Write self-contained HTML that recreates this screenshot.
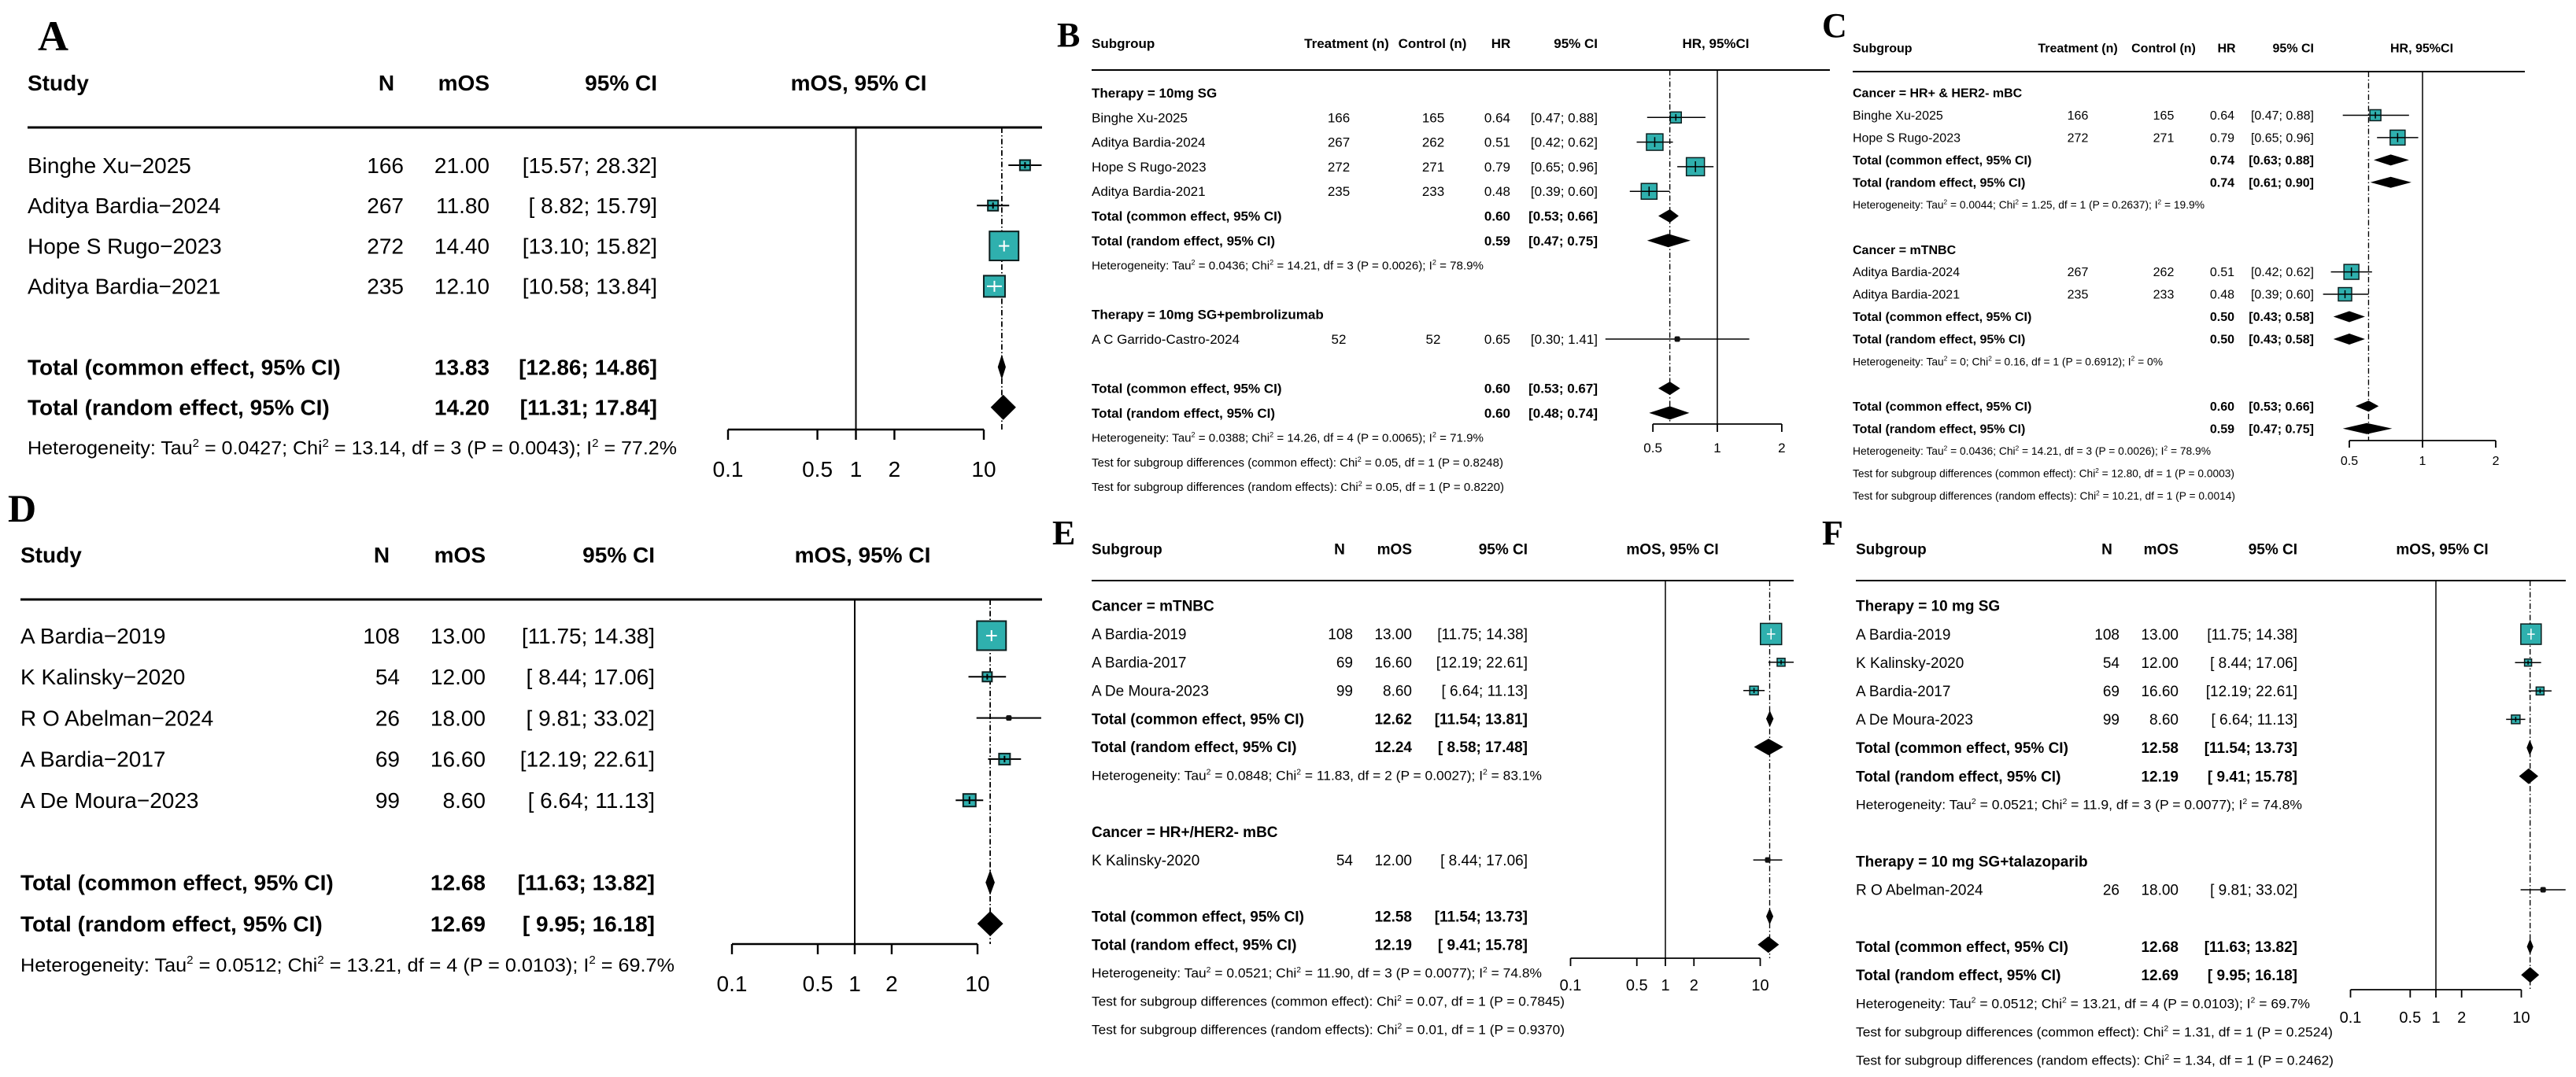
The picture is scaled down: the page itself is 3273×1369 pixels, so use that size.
<!DOCTYPE html>
<html><head><meta charset="utf-8">
<style>
html,body{margin:0;padding:0;background:#fff;}
svg{display:block;}
svg text{white-space:pre;}
</style></head>
<body>
<svg id="fig" xmlns="http://www.w3.org/2000/svg" width="3273" height="1369" viewBox="0 0 3273 1369">
<rect x="0" y="0" width="3273" height="1369" fill="#fff"/>
</svg>
<script>
// ---------- Panel A data ----------
const aStudy=["Binghe Xu\u22122025","Aditya Bardia\u22122024","Hope S Rugo\u22122023","Aditya Bardia\u22122021"];
const aN=[166,267,272,235];
const aEst=[21.00,11.80,14.40,12.10];
const aLo=[15.57,8.82,13.10,10.58];
const aHi=[28.32,15.79,15.82,13.84];
const aWeight=[7,7,56,30];
const aPoolEst=[13.83,14.20];
const aPoolLo=[12.86,11.31];
const aPoolHi=[14.86,17.84];
const aHet="Heterogeneity: Tau^2 = 0.0427; Chi^2 = 13.14, df = 3 (P = 0.0043); I^2 = 77.2%";
const mosTicks=[0.1,0.5,1,2,10];
const hrTicks=[0.5,1,2];
// ---------- Panel D data ----------
const dStudy=["A Bardia\u22122019","K Kalinsky\u22122020","R O Abelman\u22122024","A Bardia\u22122017","A De Moura\u22122023"];
const dN=[108,54,26,69,99];
const dEst=[13.00,12.00,18.00,16.60,8.60];
const dLo=[11.75,8.44,9.81,12.19,6.64];
const dHi=[14.38,17.06,33.02,22.61,11.13];
const dWeight=[67.5,7.1,3.2,9.7,12.6];
const dPoolEst=[12.68,12.69];
const dPoolLo=[11.63,9.95];
const dPoolHi=[13.82,16.18];
const dHet="Heterogeneity: Tau^2 = 0.0512; Chi^2 = 13.21, df = 4 (P = 0.0103); I^2 = 69.7%";
// ---------- Panel B data ----------
const bGroups=["Therapy = 10mg SG","Therapy = 10mg SG+pembrolizumab"];
const bStudy=["Binghe Xu-2025","Aditya Bardia-2024","Hope S Rugo-2023","Aditya Bardia-2021","A C Garrido-Castro-2024"];
const bTreat=[166,267,272,235,52];
const bCtrl=[165,262,271,233,52];
const bEst=[0.64,0.51,0.79,0.48,0.65];
const bLo=[0.47,0.42,0.65,0.39,0.30];
const bHi=[0.88,0.62,0.96,0.60,1.41];
const bWeight=[12.2,27.5,33.0,25.0,2.2];
const bSubEst=[0.60,0.59];
const bSubLo=[0.53,0.47];
const bSubHi=[0.66,0.75];
const bPoolEst=[0.60,0.60];
const bPoolLo=[0.53,0.48];
const bPoolHi=[0.67,0.74];
const bHet=["Heterogeneity: Tau^2 = 0.0436; Chi^2 = 14.21, df = 3 (P = 0.0026); I^2 = 78.9%","Heterogeneity: Tau^2 = 0.0388; Chi^2 = 14.26, df = 4 (P = 0.0065); I^2 = 71.9%"];
const bTests=["Test for subgroup differences (common effect): Chi^2 = 0.05, df = 1 (P = 0.8248)","Test for subgroup differences (random effects): Chi^2 = 0.05, df = 1 (P = 0.8220)"];
// ---------- Panel C data ----------
const cGroups=["Cancer = HR+ & HER2- mBC","Cancer = mTNBC"];
const cStudy=["Binghe Xu-2025","Hope S Rugo-2023","Aditya Bardia-2024","Aditya Bardia-2021"];
const cTreat=[166,272,267,235];
const cCtrl=[165,271,262,233];
const cEst=[0.64,0.79,0.51,0.48];
const cLo=[0.47,0.65,0.42,0.39];
const cHi=[0.88,0.96,0.62,0.60];
const cWeight=[16.2,29.9,29.9,23.9];
const cSubEst=[0.74,0.74,0.50,0.50];
const cSubLo=[0.63,0.61,0.43,0.43];
const cSubHi=[0.88,0.90,0.58,0.58];
const cPoolEst=[0.60,0.59];
const cPoolLo=[0.53,0.47];
const cPoolHi=[0.66,0.75];
const cHet=["Heterogeneity: Tau^2 = 0.0044; Chi^2 = 1.25, df = 1 (P = 0.2637); I^2 = 19.9%","Heterogeneity: Tau^2 = 0; Chi^2 = 0.16, df = 1 (P = 0.6912); I^2 = 0%","Heterogeneity: Tau^2 = 0.0436; Chi^2 = 14.21, df = 3 (P = 0.0026); I^2 = 78.9%"];
const cTests=["Test for subgroup differences (common effect): Chi^2 = 12.80, df = 1 (P = 0.0003)","Test for subgroup differences (random effects): Chi^2 = 10.21, df = 1 (P = 0.0014)"];
// ---------- Panel E data ----------
const eGroups=["Cancer = mTNBC","Cancer = HR+/HER2- mBC"];
const eStudy=["A Bardia-2019","A Bardia-2017","A De Moura-2023","K Kalinsky-2020"];
const eN=[108,69,99,54];
const eEst=[13.00,16.60,8.60,12.00];
const eLo=[11.75,12.19,6.64,8.44];
const eHi=[14.38,22.61,11.13,17.06];
const eWeight=[71.9,9.9,11.9,6.3];
const eSubEst=[12.62,12.24];
const eSubLo=[11.54,8.58];
const eSubHi=[13.81,17.48];
const ePoolEst=[12.58,12.19];
const ePoolLo=[11.54,9.41];
const ePoolHi=[13.73,15.78];
const eHet=["Heterogeneity: Tau^2 = 0.0848; Chi^2 = 11.83, df = 2 (P = 0.0027); I^2 = 83.1%","Heterogeneity: Tau^2 = 0.0521; Chi^2 = 11.90, df = 3 (P = 0.0077); I^2 = 74.8%"];
const eTests=["Test for subgroup differences (common effect): Chi^2 = 0.07, df = 1 (P = 0.7845)","Test for subgroup differences (random effects): Chi^2 = 0.01, df = 1 (P = 0.9370)"];
// ---------- Panel F data ----------
const fGroups=["Therapy = 10 mg SG","Therapy = 10 mg SG+talazoparib"];
const fStudy=["A Bardia-2019","K Kalinsky-2020","A Bardia-2017","A De Moura-2023","R O Abelman-2024"];
const fN=[108,54,69,99,26];
const fEst=[13.00,12.00,16.60,8.60,18.00];
const fLo=[11.75,8.44,12.19,6.64,9.81];
const fHi=[14.38,17.06,22.61,11.13,33.02];
const fWeight=[66.7,8.0,9.9,11.9,3.6];
const fSubEst=[12.58,12.19];
const fSubLo=[11.54,9.41];
const fSubHi=[13.73,15.78];
const fPoolEst=[12.68,12.69];
const fPoolLo=[11.63,9.95];
const fPoolHi=[13.82,16.18];
const fHet=["Heterogeneity: Tau^2 = 0.0521; Chi^2 = 11.9, df = 3 (P = 0.0077); I^2 = 74.8%","Heterogeneity: Tau^2 = 0.0512; Chi^2 = 13.21, df = 4 (P = 0.0103); I^2 = 69.7%"];
const fTests=["Test for subgroup differences (common effect): Chi^2 = 1.31, df = 1 (P = 0.2524)","Test for subgroup differences (random effects): Chi^2 = 1.34, df = 1 (P = 0.2462)"];

const NS='http://www.w3.org/2000/svg';
const svg=document.getElementById('fig');
function el(tag,attrs,name){
  const e=document.createElementNS(NS,tag);
  for(const k in attrs) e.setAttribute(k,attrs[k]);
  
  
  svg.appendChild(e);
  return e;
}
function txt(x,y,s,o,name){
  const t=el('text',{x:x,y:y,'font-size':o.fs,'font-family':o.serif?'"Liberation Serif", serif':'"Liberation Sans", Arial, sans-serif','font-weight':o.b?'bold':'normal','text-anchor':o.a||'start',fill:'#000'},name);
  if(o.len){t.setAttribute('textLength',o.len);t.setAttribute('lengthAdjust','spacingAndGlyphs');}
  const parts=s.split('^2');
  parts.forEach((p,i)=>{
    if(i>0){const sup=document.createElementNS(NS,'tspan');sup.setAttribute('dy',-o.fs*0.4);sup.setAttribute('font-size',o.fs*0.6);sup.textContent='2';t.appendChild(sup);}
    const sp=document.createElementNS(NS,'tspan');
    if(i>0) sp.setAttribute('dy',o.fs*0.4);
    sp.textContent=p;t.appendChild(sp);
  });
  return t;
}
function fmtCI(lo,hi,pad){return '['+(pad&&lo<10?' ':'')+lo.toFixed(2)+'; '+hi.toFixed(2)+']';}

function mkPanel(P){
  P.sx=v=>P.x1+P.dec*Math.log10(v);
  P.Y=i=>P.y0+i*P.dy;
  txt(P.letter[1],P.letter[2],P.letter[0],{fs:P.letter[3],b:true,serif:true},'panel-label-'+P.letter[0].toLowerCase());
  P.headers.forEach(h=>{ txt(h[1],P.hy+P.fs*0.35,h[0],{fs:P.fs,b:true,a:h[2]},'column-header'); });
  el('line',{x1:P.labelX,x2:P.lineR,y1:P.hl,y2:P.hl,stroke:'#000','stroke-width':P.hlw},'header-rule');
  el('line',{x1:P.sx(1),x2:P.sx(1),y1:P.hl,y2:P.axisY,stroke:'#000','stroke-width':P.lw},'null-effect-line');
  el('line',{x1:P.sx(P.ref),x2:P.sx(P.ref),y1:P.hl,y2:P.axisY,stroke:'#000','stroke-width':P.lw*0.9,'stroke-dasharray':'7,3,1.5,3'},'pooled-estimate-line');
  const t=P.ticks;
  el('line',{x1:P.sx(t[0]),x2:P.sx(t[t.length-1]),y1:P.axisY,y2:P.axisY,stroke:'#000','stroke-width':P.lw*1.2},'x-axis');
  t.forEach(v=>{
    el('line',{x1:P.sx(v),x2:P.sx(v),y1:P.axisY,y2:P.axisY+P.tl,stroke:'#000','stroke-width':P.lw*1.2},'x-tick');
    txt(P.sx(v),P.tickY,String(v),{fs:P.tfs,a:'middle'},'x-tick-label');
  });
}
function study(P,i,label,vals,est,lo,hi,w){
  const y=P.Y(i), by=y+P.fs*0.35;
  txt(P.labelX,by,label,{fs:P.fs},'study-label');
  vals.forEach((v,k)=>txt(P.cols[k][0],by,String(v),{fs:P.fs,a:P.cols[k][1]},'study-count'));
  txt(P.estX,by,est.toFixed(2),{fs:P.fs,a:'end'},'study-estimate');
  txt(P.ciX,by,fmtCI(lo,hi,P.pad),{fs:P.fs,a:'end'},'study-ci');
  const x=P.sx(est), x1=P.sx(lo), x2=Math.min(P.sx(hi),P.clipR);
  const s=P.boxK*Math.sqrt(w);
  el('line',{x1:x1,x2:x2,y1:y,y2:y,stroke:'#000','stroke-width':P.lw},'ci-whisker');
  if(s<8.5){
    el('rect',{x:x-3.5,y:y-3.5,width:7,height:7,fill:'#111',rx:2},'study-point');
    return;
  }
  el('rect',{x:x-s/2,y:y-s/2,width:s,height:s,fill:'#2fb0ae',stroke:'#0d1f1f','stroke-width':P.lw},'study-box');
  const inside=(x2-x1)<s;
  const c=inside?'#fff':'#000';
  el('line',{x1:Math.max(x1,x-s/2),x2:Math.min(x2,x+s/2),y1:y,y2:y,stroke:c,'stroke-width':P.lw},'ci-inner');
  const vh=Math.min(s*0.3,7);
  el('line',{x1:x,x2:x,y1:y-vh,y2:y+vh,stroke:c,'stroke-width':P.lw},'estimate-tick');
}
function pooled(P,i,label,est,lo,hi){
  const y=P.Y(i), by=y+P.fs*0.35;
  txt(P.labelX,by,label,{fs:P.fs,b:true},'pooled-label');
  txt(P.estX,by,est.toFixed(2),{fs:P.fs,b:true,a:'end'},'pooled-estimate');
  txt(P.ciX,by,fmtCI(lo,hi,P.pad),{fs:P.fs,b:true,a:'end'},'pooled-ci');
  const h=P.diaH/2;
  el('polygon',{points:`${P.sx(lo)},${y} ${P.sx(est)},${y-h} ${P.sx(hi)},${y} ${P.sx(est)},${y+h}`,fill:'#000'},'pooled-diamond');
}
function note(P,i,s,len){ txt(P.labelX,P.Y(i)+P.hfs*0.35,s,{fs:P.hfs,len:len},'heterogeneity-note'); }
function group(P,i,s){ txt(P.labelX,P.Y(i)+P.fs*0.35,s,{fs:P.fs,b:true},'subgroup-header'); }
const CE='Total (common effect, 95% CI)', RE='Total (random effect, 95% CI)';

// ---- Panel A ----
const PA={letter:['A',48,64,54],x1:1087.5,dec:162.5,y0:210,dy:51.3,fs:28,hfs:24,tfs:28,labelX:35,cols:[[513,'end']],estX:622,ciX:835,pad:true,clipR:1324,lw:2,boxK:4.93,diaH:32,
  headers:[['Study',35,'start'],['N',491,'middle'],['mOS',622,'end'],['95% CI',835,'end'],['mOS, 95% CI',1091,'middle']],hy:105,hl:162,hlw:3,lineR:1324,axisY:546,tl:13,tickY:606,ticks:mosTicks,ref:aPoolEst[0]};
mkPanel(PA);
aStudy.forEach((s,i)=>study(PA,i,s,[aN[i]],aEst[i],aLo[i],aHi[i],aWeight[i]));
pooled(PA,5,CE,aPoolEst[0],aPoolLo[0],aPoolHi[0]);
pooled(PA,6,RE,aPoolEst[1],aPoolLo[1],aPoolHi[1]);
note(PA,7,aHet,825);

// ---- Panel D ----
const PD={letter:['D',10,663,50],x1:1086,dec:156,y0:808,dy:52.3,fs:28,hfs:24,tfs:28,labelX:26,cols:[[508,'end']],estX:617,ciX:832,pad:true,clipR:1324,lw:2,boxK:4.5,diaH:32,
  headers:[['Study',26,'start'],['N',485,'middle'],['mOS',617,'end'],['95% CI',832,'end'],['mOS, 95% CI',1096,'middle']],hy:705,hl:762,hlw:3,lineR:1324,axisY:1200,tl:13,tickY:1260,ticks:mosTicks,ref:dPoolEst[0]};
mkPanel(PD);
dStudy.forEach((s,i)=>study(PD,i,s,[dN[i]],dEst[i],dLo[i],dHi[i],dWeight[i]));
pooled(PD,6,CE,dPoolEst[0],dPoolLo[0],dPoolHi[0]);
pooled(PD,7,RE,dPoolEst[1],dPoolLo[1],dPoolHi[1]);
note(PD,8,dHet,831);

// ---- Panel B ----
const PB={letter:['B',1343,59,44],x1:2182,dec:272,y0:118,dy:31.3,fs:17,hfs:15,tfs:17,labelX:1387,cols:[[1701,'middle'],[1821,'middle']],estX:1919,ciX:2030,pad:false,clipR:2268,lw:1.5,boxK:4.0,diaH:17,
  headers:[['Subgroup',1387,'start'],['Treatment (n)',1711,'middle'],['Control (n)',1820,'middle'],['HR',1907,'middle'],['95% CI',2030,'end'],['HR, 95%CI',2180,'middle']],hy:55,hl:89,hlw:2,lineR:2325,axisY:539,tl:10,tickY:575,ticks:hrTicks,ref:bPoolEst[0]};
mkPanel(PB);
group(PB,0,bGroups[0]);
[0,1,2,3].forEach((j,k)=>study(PB,1+k,bStudy[j],[bTreat[j],bCtrl[j]],bEst[j],bLo[j],bHi[j],bWeight[j]));
pooled(PB,5,CE,bSubEst[0],bSubLo[0],bSubHi[0]);
pooled(PB,6,RE,bSubEst[1],bSubLo[1],bSubHi[1]);
note(PB,7,bHet[0],498);
group(PB,9,bGroups[1]);
study(PB,10,bStudy[4],[bTreat[4],bCtrl[4]],bEst[4],bLo[4],bHi[4],bWeight[4]);
pooled(PB,12,CE,bPoolEst[0],bPoolLo[0],bPoolHi[0]);
pooled(PB,13,RE,bPoolEst[1],bPoolLo[1],bPoolHi[1]);
note(PB,14,bHet[1],498);
note(PB,15,bTests[0],523);
note(PB,16,bTests[1],524);

// ---- Panel C ----
const PC={letter:['C',2315,47,44],x1:3078,dec:309,y0:118,dy:28.45,fs:16,hfs:14,tfs:16,labelX:2354,cols:[[2640,'middle'],[2749,'middle']],estX:2839,ciX:2940,pad:false,clipR:3260,lw:1.5,boxK:3.47,diaH:14,
  headers:[['Subgroup',2354,'start'],['Treatment (n)',2640,'middle'],['Control (n)',2749,'middle'],['HR',2829,'middle'],['95% CI',2940,'end'],['HR, 95%CI',3077,'middle']],hy:61,hl:91,hlw:2,lineR:3208,axisY:560,tl:9,tickY:591,ticks:hrTicks,ref:cPoolEst[0]};
mkPanel(PC);
group(PC,0,cGroups[0]);
study(PC,1,cStudy[0],[cTreat[0],cCtrl[0]],cEst[0],cLo[0],cHi[0],cWeight[0]);
study(PC,2,cStudy[1],[cTreat[1],cCtrl[1]],cEst[1],cLo[1],cHi[1],cWeight[1]);
pooled(PC,3,CE,cSubEst[0],cSubLo[0],cSubHi[0]);
pooled(PC,4,RE,cSubEst[1],cSubLo[1],cSubHi[1]);
note(PC,5,cHet[0],447);
group(PC,7,cGroups[1]);
study(PC,8,cStudy[2],[cTreat[2],cCtrl[2]],cEst[2],cLo[2],cHi[2],cWeight[2]);
study(PC,9,cStudy[3],[cTreat[3],cCtrl[3]],cEst[3],cLo[3],cHi[3],cWeight[3]);
pooled(PC,10,CE,cSubEst[2],cSubLo[2],cSubHi[2]);
pooled(PC,11,RE,cSubEst[3],cSubLo[3],cSubHi[3]);
note(PC,12,cHet[1],394);
pooled(PC,14,CE,cPoolEst[0],cPoolLo[0],cPoolHi[0]);
pooled(PC,15,RE,cPoolEst[1],cPoolLo[1],cPoolHi[1]);
note(PC,16,cHet[2],455);
note(PC,17,cTests[0],485);
note(PC,18,cTests[1],486);

// ---- Panel E ----
const PE={letter:['E',1337,692,44],x1:2116,dec:120.5,y0:770,dy:35.9,fs:19,hfs:17,tfs:20,labelX:1387,cols:[[1719,'end']],estX:1794,ciX:1941,pad:true,clipR:2279,lw:1.5,boxK:3.18,diaH:21,
  headers:[['Subgroup',1387,'start'],['N',1702,'middle'],['mOS',1794,'end'],['95% CI',1941,'end'],['mOS, 95% CI',2125,'middle']],hy:698,hl:738,hlw:2,lineR:2279,axisY:1218,tl:10,tickY:1259,ticks:mosTicks,ref:ePoolEst[0]};
mkPanel(PE);
group(PE,0,eGroups[0]);
[0,1,2].forEach(j=>study(PE,1+j,eStudy[j],[eN[j]],eEst[j],eLo[j],eHi[j],eWeight[j]));
pooled(PE,4,CE,eSubEst[0],eSubLo[0],eSubHi[0]);
pooled(PE,5,RE,eSubEst[1],eSubLo[1],eSubHi[1]);
note(PE,6,eHet[0],572);
group(PE,8,eGroups[1]);
study(PE,9,eStudy[3],[eN[3]],eEst[3],eLo[3],eHi[3],eWeight[3]);
pooled(PE,11,CE,ePoolEst[0],ePoolLo[0],ePoolHi[0]);
pooled(PE,12,RE,ePoolEst[1],ePoolLo[1],ePoolHi[1]);
note(PE,13,eHet[1],572);
note(PE,14,eTests[0],601);
note(PE,15,eTests[1],601);

// ---- Panel F ----
const PF={letter:['F',2315,692,44],x1:3095,dec:108.5,y0:770,dy:36.1,fs:19,hfs:17,tfs:20,labelX:2358,cols:[[2693,'end']],estX:2768,ciX:2919,pad:true,clipR:3260,lw:1.5,boxK:3.18,diaH:20,
  headers:[['Subgroup',2358,'start'],['N',2677,'middle'],['mOS',2768,'end'],['95% CI',2919,'end'],['mOS, 95% CI',3103,'middle']],hy:698,hl:738,hlw:2,lineR:3260,axisY:1258,tl:10,tickY:1300,ticks:mosTicks,ref:fPoolEst[0]};
mkPanel(PF);
group(PF,0,fGroups[0]);
[0,1,2,3].forEach(j=>study(PF,1+j,fStudy[j],[fN[j]],fEst[j],fLo[j],fHi[j],fWeight[j]));
pooled(PF,5,CE,fSubEst[0],fSubLo[0],fSubHi[0]);
pooled(PF,6,RE,fSubEst[1],fSubLo[1],fSubHi[1]);
note(PF,7,fHet[0],567);
group(PF,9,fGroups[1]);
study(PF,10,fStudy[4],[fN[4]],fEst[4],fLo[4],fHi[4],fWeight[4]);
pooled(PF,12,CE,fPoolEst[0],fPoolLo[0],fPoolHi[0]);
pooled(PF,13,RE,fPoolEst[1],fPoolLo[1],fPoolHi[1]);
note(PF,14,fHet[1],577);
note(PF,15,fTests[0],606);
note(PF,16,fTests[1],607);
</script>
</body></html>
